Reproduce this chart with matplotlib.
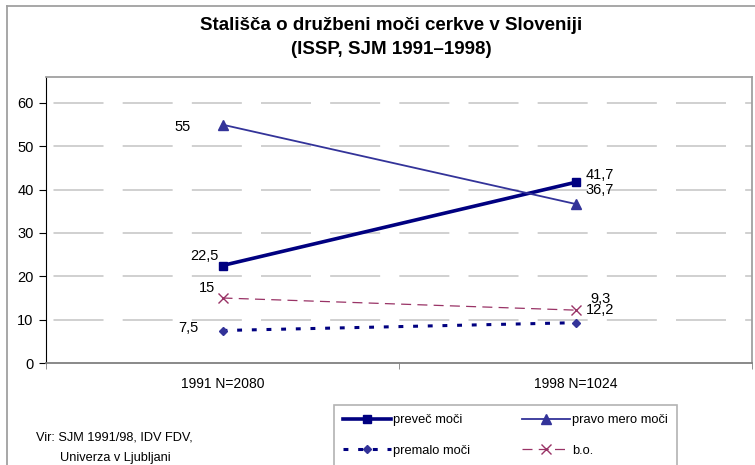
import matplotlib
matplotlib.use('Agg')
import matplotlib.pyplot as plt
from matplotlib.lines import Line2D
import numpy as np

plt.rcParams['font.family'] = ['Liberation Sans', 'DejaVu Sans']

# data
categories = ['1991 N=2080', '1998 N=1024']
prevec = [22.5, 41.7]
pravo = [55, 36.7]
premalo = [7.5, 9.3]
bo = [15, 12.2]
yticks = [0, 10, 20, 30, 40, 50, 60]

W, H = 755, 465
fig = plt.figure(figsize=(W / 100, H / 100), dpi=100)

# chart border (left and top only visible)
fig.add_artist(Line2D([7 / W, 7 / W], [0, 1 - 6 / H], color='#a0a0a0', lw=1.3))
fig.add_artist(Line2D([7 / W, 1], [1 - 6 / H, 1 - 6 / H], color='#a0a0a0', lw=1.3))

ax_l, ax_t, ax_r, ax_b = 46, 77, 752, 363
ax = fig.add_axes([ax_l / W, 1 - ax_b / H, (ax_r - ax_l) / W, (ax_b - ax_t) / H])
ax.set_xlim(-0.5, 1.5)
ax.set_ylim(0, 66)

x = np.arange(len(categories))

# grid
for v in yticks[1:]:
    ax.axhline(v, color='#c8c8c8', lw=1.2, linestyle=(37, (30, 11.5)), zorder=1)

l1, = ax.plot(x, prevec, color='#000080', lw=2.6, marker='s', ms=6, zorder=4,
              label='preveč moči')
l2, = ax.plot(x, pravo, color='#333399', lw=1.3, marker='^', ms=6.5, zorder=4,
              label='pravo mero moči')
l3, = ax.plot(x, premalo, color='#000080', lw=2.2, dashes=(1.6, 3.2), marker='D',
              ms=4.5, mfc='#333399', mec='#333399', zorder=4, label='premalo moči')
l4, = ax.plot(x, bo, color='#993366', lw=0.9, dashes=(8, 5), marker='x', ms=6.5,
              mew=1, zorder=4, label='b.o.')

# data labels
fs = 10.5
ax.annotate('55', (0, 55), xytext=(-32, -2), textcoords='offset pixels',
            ha='right', va='center', fontsize=fs)
ax.annotate('22,5', (0, 22.5), xytext=(-4, 9), textcoords='offset pixels',
            ha='right', va='center', fontsize=fs)
ax.annotate('15', (0, 15), xytext=(-7, 10), textcoords='offset pixels',
            ha='right', va='center', fontsize=fs)
ax.annotate('7,5', (0, 7.5), xytext=(-24, 2), textcoords='offset pixels',
            ha='right', va='center', fontsize=fs)
ax.annotate('41,7', (1, 41.7), xytext=(10, 7), textcoords='offset pixels',
            ha='left', va='center', fontsize=fs)
ax.annotate('36,7', (1, 36.7), xytext=(10, 14), textcoords='offset pixels',
            ha='left', va='center', fontsize=fs)
ax.annotate('9,3', (1, 9.3), xytext=(15, 24), textcoords='offset pixels',
            ha='left', va='center', fontsize=fs)
ax.annotate('12,2', (1, 12.2), xytext=(10, 0), textcoords='offset pixels',
            ha='left', va='center', fontsize=fs)

# axes styling
ax.set_yticks(yticks)
ax.set_yticklabels([str(v) for v in yticks], fontsize=10.5)
ax.set_xticks(x)
ax.set_xticklabels(categories, fontsize=10)
ax.set_xticks([-0.5, 0.5, 1.5], minor=True)
ax.tick_params(axis='x', which='major', length=0, pad=10)
ax.tick_params(axis='x', which='minor', length=4, color='#808080')
ax.tick_params(axis='y', length=5, color='black', pad=4)
ax.spines['left'].set_color('black')
ax.spines['bottom'].set_color('#808080')
ax.spines['top'].set_color('#a0a0a0')
ax.spines['right'].set_color('#a0a0a0')
for s in ['bottom', 'top', 'right']:
    ax.spines[s].set_linewidth(1.3)

# title
fig.text(391 / W, 1 - 25 / H, 'Stališča o družbeni moči cerkve v Sloveniji',
         ha='center', va='center', fontsize=13.5, fontweight='bold')
fig.text(391 / W, 1 - 50 / H, '(ISSP, SJM 1991–1998)',
         ha='center', va='center', fontsize=13.5, fontweight='bold')

# source
fig.text(36 / W, 1 - 437 / H, 'Vir: SJM 1991/98, IDV FDV,', ha='left',
         va='center', fontsize=9.2)
fig.text(60 / W, 1 - 458 / H, 'Univerza v Ljubljani', ha='left',
         va='center', fontsize=9.2)

# legend (row-wise order like the reference)
leg = fig.legend([l1, l3, l2, l4],
                 ['preveč moči', 'premalo moči', 'pravo mero moči', 'b.o.'],
                 loc='upper left', bbox_to_anchor=(334 / W, 1 - 405 / H),
                 ncol=2, fontsize=9.3, frameon=True, fancybox=False,
                 edgecolor='#a0a0a0', handlelength=3.7, handletextpad=0.2,
                 columnspacing=4.0, labelspacing=1.45, borderpad=0.7,
                 borderaxespad=0)
leg.get_frame().set_linewidth(1.2)

fig.savefig('out.png', dpi=100)
